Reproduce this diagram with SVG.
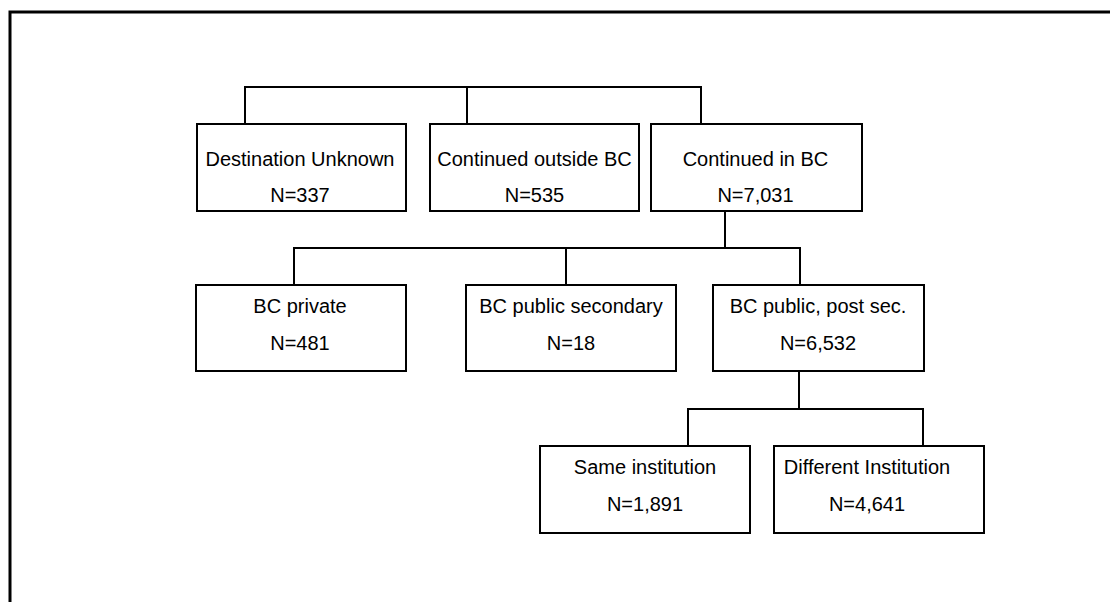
<svg xmlns="http://www.w3.org/2000/svg" width="1110" height="602" viewBox="0 0 1110 602">
<style>
.box{fill:#fff;stroke:#000;stroke-width:2}
.ln{fill:none;stroke:#000;stroke-width:2}
.t{font-family:"Liberation Sans",Arial,sans-serif;font-size:20px;fill:#000;text-anchor:middle}
</style>
<rect width="1110" height="602" fill="#fff"/>
<g id="frame"><path d="M10,602 V12 H1110" fill="none" stroke="#000" stroke-width="3"/></g>
<g id="connectors" class="ln">
<path class="ln" d="M245,124 V87 H701 V124 M467,87 V124"/>
<path class="ln" d="M725,211 V248 M294,285 V248 H800 V285 M566,248 V285"/>
<path class="ln" d="M799,371 V409 M688,446 V409 H923 V446"/>
</g>
<g id="n1"><rect class="box" x="197" y="124" width="209" height="87"/><text class="t" x="300" y="166">Destination Unknown</text><text class="t" x="300" y="202">N=337</text></g>
<g id="n2"><rect class="box" x="430" y="124" width="209" height="87"/><text class="t" x="534.5" y="166">Continued outside BC</text><text class="t" x="534.5" y="202">N=535</text></g>
<g id="n3"><rect class="box" x="651" y="124" width="211" height="87"/><text class="t" x="755.5" y="166">Continued in BC</text><text class="t" x="755.5" y="202">N=7,031</text></g>
<g id="n4"><rect class="box" x="196" y="285" width="210" height="86"/><text class="t" x="300" y="313">BC private</text><text class="t" x="300" y="350">N=481</text></g>
<g id="n5"><rect class="box" x="466" y="285" width="210" height="86"/><text class="t" x="571" y="313">BC public secondary</text><text class="t" x="571" y="350">N=18</text></g>
<g id="n6"><rect class="box" x="713" y="285" width="211" height="86"/><text class="t" x="818" y="313">BC public, post sec.</text><text class="t" x="818" y="350">N=6,532</text></g>
<g id="n7"><rect class="box" x="540" y="446" width="210" height="87"/><text class="t" x="645" y="474">Same institution</text><text class="t" x="645" y="511">N=1,891</text></g>
<g id="n8"><rect class="box" x="774" y="446" width="210" height="87"/><text class="t" x="867" y="474">Different Institution</text><text class="t" x="867" y="511">N=4,641</text></g>
</svg>
